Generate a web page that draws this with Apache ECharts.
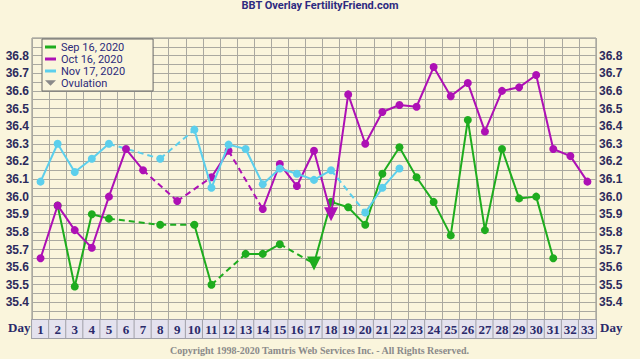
<!DOCTYPE html>
<html><head><meta charset="utf-8">
<script src="https://cdn.jsdelivr.net/npm/echarts@6/dist/echarts.min.js"></script>
<style>html,body{margin:0;padding:0;background:#faf5dc}#c{width:640px;height:359px}</style>
</head><body><div id="c"></div>
<script>
const days = ['1','2','3','4','5','6','7','8','9','10','11','12','13','14','15','16','17','18','19','20','21','22','23','24','25','26','27','28','29','30','31','32','33'];
const sep16 = [null,35.95,35.49,35.90,35.875,null,null,35.84,null,35.84,35.50,null,35.675,35.675,35.73,null,35.62,35.97,35.94,35.84,36.13,36.28,36.11,35.97,35.78,36.435,35.81,36.27,35.99,36.00,35.65,null,null];
const oct16 = [35.65,35.95,35.81,35.71,36.00,36.27,36.15,null,35.975,null,36.11,36.26,null,35.93,36.185,36.06,36.26,35.90,36.58,36.30,36.48,36.52,36.51,36.735,36.57,36.645,36.37,36.60,36.62,36.69,36.27,36.23,36.085];
const nov17 = [36.085,36.30,36.14,36.215,36.30,null,null,36.215,null,36.38,36.05,36.295,36.27,36.07,36.16,36.13,36.095,36.15,null,35.91,36.05,36.16,null,null,null,null,null,null,null,null,null,null,null];
const seriesNames = ['Sep 16, 2020','Oct 16, 2020','Nov 17, 2020'];
const ovulationDays = [17, 18, null];
const yLabelMin = 35.4, yLabelMax = 36.8;

const colors = ['#1eac1e','#ad10b5','#5ccfec'];
const allData = [sep16, oct16, nov17];
const series = [];
allData.forEach((vals, k) => {
  const ov = ovulationDays[k];
  series.push({
    name: seriesNames[k], type: 'line', color: colors[k],
    symbol: 'circle', symbolSize: 8, connectNulls: false,
    lineStyle: {width: 2}, z: 3 + k,
    data: vals.map((v, i) => v == null ? null : (i + 1 === ov ? {value: v, symbol: 'triangle', symbolRotate: 180, symbolSize: 14} : v))
  });
  const idx = vals.map((v, i) => v == null ? -1 : i).filter(i => i >= 0);
  for (let j = 0; j + 1 < idx.length; j++) {
    const a = idx[j], b = idx[j + 1];
    if (b - a > 1) {
      series.push({
        name: seriesNames[k] + ' gap' + j, type: 'line', color: colors[k],
        showSymbol: false, connectNulls: true, z: 2 + k,
        lineStyle: {width: 2, type: [6, 4]},
        data: vals.map((v, i) => (i === a || i === b) ? v : null)
      });
    }
  }
});
series.push({name: 'Ovulation', type: 'line', color: '#8a8a8a', data: []});

function yFmt(v) {
  const t = Math.round(v * 100);
  if (t % 10 !== 0) return '';
  if (v < yLabelMin - 1e-6 || v > yLabelMax + 1e-6) return '';
  return v.toFixed(1);
}
const yLabel = {formatter: yFmt, fontFamily: 'Liberation Sans', fontWeight: 'bold', fontSize: 12, color: '#2c2a5c', margin: 3};

const chart = echarts.init(document.getElementById('c'), null, {renderer: 'svg'});
chart.setOption({
  backgroundColor: '#faf5dc',
  animation: false,
  title: {text: 'BBT Overlay FertilityFriend.com', left: 'center', top: 0, padding: 0,
    textStyle: {fontSize: 11, fontWeight: 'bold', color: '#2d2a80', fontFamily: 'Roboto', lineHeight: 11}},
  legend: {
    orient: 'vertical', left: 42, top: 39,
    data: [
      {name: seriesNames[0], icon: 'path://M0,0h11v3h-11z'},
      {name: seriesNames[1], icon: 'path://M0,0h11v3h-11z'},
      {name: seriesNames[2], icon: 'path://M0,0h11v3h-11z'},
      {name: 'Ovulation', icon: 'path://M0,0h12l-6,6z'}
    ],
    itemWidth: 11, itemHeight: 8, itemGap: 0,
    padding: [2, 28, 2, 3],
    borderColor: '#666', borderWidth: 1, backgroundColor: '#faf5dc',
    textStyle: {fontSize: 11, color: '#2c2a7a', fontFamily: 'Roboto', lineHeight: 12}
  },
  grid: {left: 32, right: 44, top: 38, bottom: 39, show: true, borderColor: '#8a8a8a', borderWidth: 1},
  xAxis: {
    type: 'category', data: days, boundaryGap: true,
    axisLine: {show: true, lineStyle: {color: '#8a8a8a'}},
    axisTick: {show: false},
    splitLine: {show: true, interval: 0, lineStyle: {color: '#aaa9a0'}},
    axisLabel: {interval: 0, margin: 0, fontFamily: 'Liberation Serif', fontWeight: 'bold', fontSize: 13,
      color: '#2a2a6a', backgroundColor: '#e4e2ee', borderColor: '#a0a0a8', borderWidth: 1,
      width: 15, height: 14, lineHeight: 14, padding: [2, 1, 2, 1], align: 'center'}
  },
  yAxis: [
    {type: 'value', min: 35.3, max: 36.9, interval: 0.05, position: 'left',
      axisLine: {show: false}, axisTick: {show: false},
      splitLine: {show: true, lineStyle: {color: '#aaa9a0'}}, axisLabel: yLabel},
    {type: 'value', min: 35.3, max: 36.9, interval: 0.05, position: 'right',
      axisLine: {show: false}, axisTick: {show: false},
      splitLine: {show: false}, axisLabel: yLabel}
  ],
  graphic: [
    {type: 'text', left: 8, top: 321, style: {text: 'Day', fontFamily: 'Liberation Serif', fontWeight: 'bold', fontSize: 13, fill: '#2a2a6a'}},
    {type: 'text', left: 600, top: 321, style: {text: 'Day', fontFamily: 'Liberation Serif', fontWeight: 'bold', fontSize: 13, fill: '#2a2a6a'}},
    {type: 'text', left: 'center', top: 345, style: {text: 'Copyright 1998-2020 Tamtris Web Services Inc. - All Rights Reserved.', fontFamily: 'Liberation Serif', fontWeight: 'bold', fontSize: 10, fill: '#8a8a8a'}}
  ],
  series: series
});
</script></body></html>
